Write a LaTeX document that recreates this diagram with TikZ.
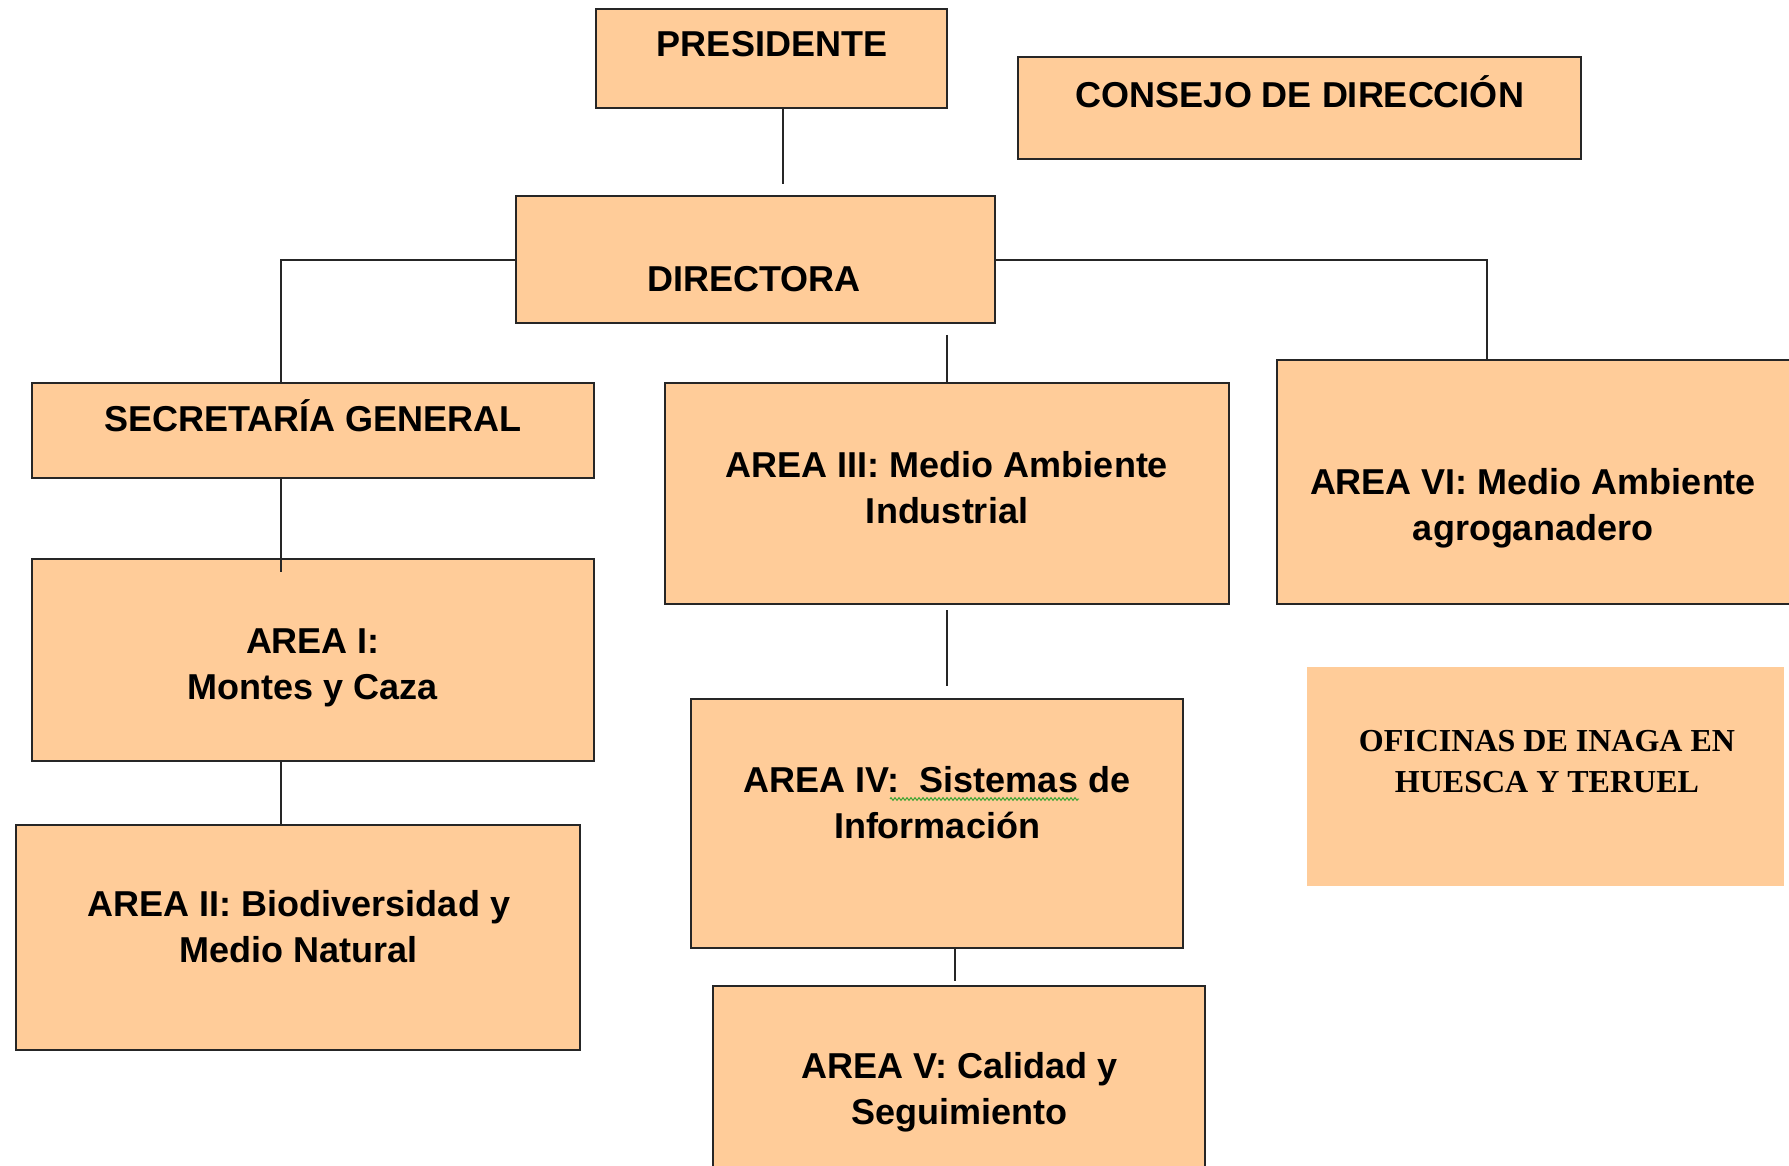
\documentclass[tikz,border=0pt]{standalone}
\usepackage{fontspec}
\setmainfont{Liberation Sans}
\newfontfamily\serifb{Liberation Serif}
\usetikzlibrary{decorations.pathmorphing}
\definecolor{peach}{HTML}{FFCC99}
\definecolor{spell}{RGB}{40,160,40}
\begin{document}
\begin{tikzpicture}[x=1pt,y=-1pt,
  box/.style={draw=black!85, line width=2pt, fill=peach, inner sep=0pt, outer sep=0pt, rectangle},
  plainbox/.style={fill=peach, inner sep=0pt, outer sep=0pt, rectangle},
  lbl/.style={font=\fontsize{36}{46}\selectfont\bfseries, align=center, inner sep=0pt, anchor=base},
  lbls/.style={font=\serifb\fontsize{32}{41}\selectfont\bfseries, align=center, inner sep=0pt, anchor=base},
  conn/.style={draw=black!85, line width=1.5pt}]
\useasboundingbox (0,0) rectangle (1789,1166);
\fill[white] (0,0) rectangle (1789,1166);

% boxes
\node[box, minimum width=351pt, minimum height=99pt] (pres) at (771.5,58.5) {};
\node[box, minimum width=563pt, minimum height=102pt] (cons) at (1299.5,108) {};
\node[box, minimum width=479pt, minimum height=127pt] (dir) at (755.5,259.5) {};
\node[box, minimum width=562pt, minimum height=95pt] (sec) at (313,430.5) {};
\node[box, minimum width=562pt, minimum height=202pt] (a1) at (313,660) {};
\node[box, minimum width=564pt, minimum height=225pt] (a2) at (298,937.5) {};
\node[box, minimum width=564pt, minimum height=221pt] (a3) at (947,493.5) {};
\node[box, minimum width=523pt, minimum height=244pt] (a6) at (1538.5,482) {};
\node[box, minimum width=492pt, minimum height=249pt] (a4) at (937,823.5) {};
\node[box, minimum width=492pt, minimum height=194pt] (a5) at (959,1083) {};
\node[plainbox, minimum width=477pt, minimum height=219pt] (ofi) at (1545.5,776.5) {};

% texts (anchor=base is the baseline of the last line)
\node[lbl] (tpres) at (772,57) {PRESIDENTE};
\node[lbl] (tcons) at (1300,108) {CONSEJO DE DIRECCIÓN};
\node[lbl] (tdir) at (754,292) {DIRECTORA};
\node[lbl] (tsec) at (313,431) {SECRETARÍA GENERAL};
\node[lbl] (ta1) at (313,699) {AREA I:\\Montes y Caza};
\node[lbl] (ta2) at (299,962) {AREA II: Biodiversidad y\\Medio Natural};
\node[lbl] (ta3) at (947,523) {AREA III: Medio Ambiente\\Industrial};
\node[lbl] (ta6) at (1533,540) {AREA VI: Medio Ambiente\\agroganadero};
\node[lbl] (ta4) at (937,838) {AREA IV:\ \ Sistemas de\\Información};
\node[lbl] (ta5) at (959.5,1124) {AREA V: Calidad y\\Seguimiento};
\node[lbls] (tofi) at (1547,792) {OFICINAS DE INAGA EN\\HUESCA Y TERUEL};

% spell-check squiggle
\draw[spell, line width=0.9pt, decorate, decoration={zigzag, amplitude=1.4pt, segment length=4pt}] (890,799) -- (1079,799);

% connectors
\coordinate (pgap) at (783,184);
\coordinate (jl) at (281,260);
\coordinate (jr) at (1487,260);
\coordinate (g3) at (947,335);
\coordinate (g1) at (281,572);
\coordinate (g4a) at (947,610);
\coordinate (g4b) at (947,686);
\coordinate (g5) at (955,981);

\draw[conn] (pgap |- pres.south) -- (pgap);
\draw[conn] (dir.west |- jl) -- (jl) -- (jl |- sec.north);
\draw[conn] (dir.east |- jr) -- (jr) -- (jr |- a6.north);
\draw[conn] (g3) -- (a3.north);
\draw[conn] (g1 |- sec.south) -- (g1);
\draw[conn] (jl |- a1.south) -- (jl |- a2.north);
\draw[conn] (g4a) -- (g4b);
\draw[conn] (g5 |- a4.south) -- (g5);
\end{tikzpicture}
\end{document}
